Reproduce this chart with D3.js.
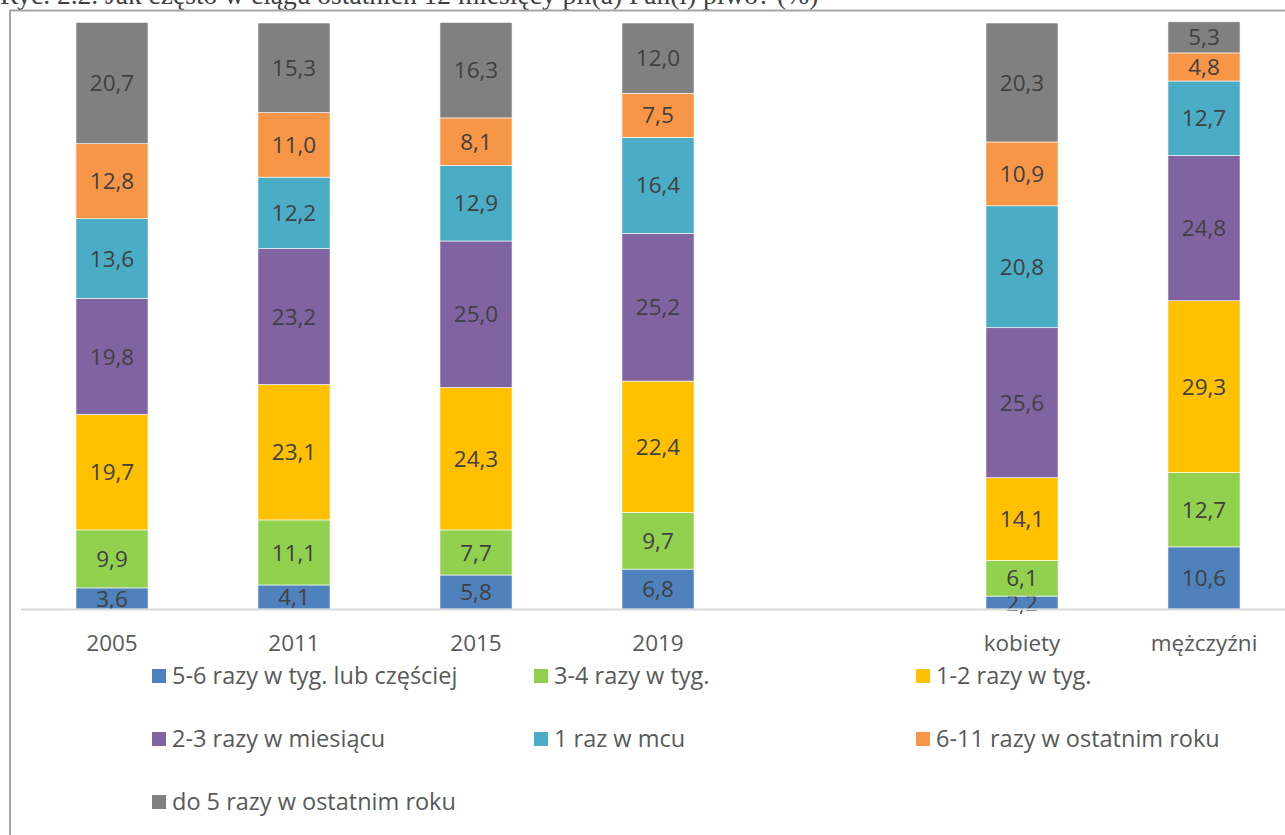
<!DOCTYPE html>
<html>
<head>
<meta charset="utf-8">
<style>
  body { margin: 0; background: #fff; }
  svg { display: block; }
  text { font-family: "Open Sans", Lato, sans-serif; }
</style>
</head>
<body>
<svg width="1285" height="835"></svg>
<script src="https://cdn.jsdelivr.net/npm/d3@7"></script>
<script>

var categories = ["2005", "2011", "2015", "2019", "kobiety", "mężczyźni"];

var seriesNames = [
  "5-6 razy w tyg. lub częściej",
  "3-4 razy w tyg.",
  "1-2 razy w tyg.",
  "2-3 razy w miesiącu",
  "1 raz w mcu",
  "6-11 razy w ostatnim roku",
  "do 5 razy w ostatnim roku"
];

var colors = ["#4f81bd", "#92d050", "#ffc000", "#8064a2", "#4bacc6", "#f79646", "#808080"];

// values per series, in category order
var weekly56   = [3.6, 4.1, 5.8, 6.8, 2.2, 10.6];
var weekly34   = [9.9, 11.1, 7.7, 9.7, 6.1, 12.7];
var weekly12   = [19.7, 23.1, 24.3, 22.4, 14.1, 29.3];
var monthly23  = [19.8, 23.2, 25.0, 25.2, 25.6, 24.8];
var monthly1   = [13.6, 12.2, 12.9, 16.4, 20.8, 12.7];
var yearly611  = [12.8, 11.0, 8.1, 7.5, 10.9, 4.8];
var yearlyTo5  = [20.7, 15.3, 16.3, 12.0, 20.3, 5.3];

var seriesValues = [weekly56, weekly34, weekly12, monthly23, monthly1, yearly611, yearlyTo5];

var title = "Ryc. 2.2. Jak często w ciągu ostatnich 12 miesięcy pił(a) Pan(i) piwo? (%)";

var svg = d3.select("svg");

// rows for the stack
var rows = categories.map(function(c, i) {
  var r = {cat: c};
  seriesNames.forEach(function(s, j) { r[s] = seriesValues[j][i]; });
  return r;
});

// empty slot between years and sex
var gapKey = "__gap";
var xDomain = categories.slice(0, 4).concat([gapKey], categories.slice(4));

var x = d3.scaleBand()
    .domain(xDomain)
    .range([21, 1295])
    .paddingInner(0.604)
    .paddingOuter(0.302);

var y = d3.scaleLinear()
    .domain([0, 100])
    .range([609, 23]);

var stacked = d3.stack().keys(seriesNames)(rows);

var fmt = function(v) { return d3.format(".1f")(v).replace(".", ","); };

// title (clipped at top, as in the source)
svg.append("text")
    .attr("x", 0)
    .attr("y", 4)
    .style("font-family", "'Liberation Serif', 'Times New Roman', serif")
    .style("font-size", "27.5px")
    .attr("fill", "#404040")
    .text(title);

// frame
svg.append("path")
    .attr("d", "M10,900 L10,10.5 L1300,10.5")
    .attr("fill", "none")
    .attr("stroke", "#a6a6a6")
    .attr("stroke-width", 2);

var layers = svg.append("g").selectAll("g")
  .data(stacked)
  .enter().append("g")
    .attr("fill", function(d, i) { return colors[i]; });

layers.selectAll("rect")
  .data(function(d) { return d; })
  .enter().append("rect")
    .attr("x", function(d) { return x(d.data.cat); })
    .attr("width", x.bandwidth())
    .attr("y", function(d) { return y(d[1]); })
    .attr("height", function(d) { return y(d[0]) - y(d[1]); })
    .attr("stroke", "#fff")
    .attr("stroke-width", 0.6);

// axis line
var xAxis = svg.append("g")
    .attr("transform", "translate(0," + y(0) + ")")
    .call(d3.axisBottom(x).tickSize(0).tickPadding(0)
      .tickFormat(function(d) { return d === gapKey ? "" : d; }));
xAxis.select(".domain")
    .attr("d", "M21,0.5H1295")
    .attr("stroke", "#d9d9d9")
    .attr("stroke-width", 2);
xAxis.selectAll("text")
    .attr("y", 34)
    .attr("dy", "0.35em")
    .style("font-family", "'Open Sans', sans-serif")
    .style("font-size", "22.5px")
    .attr("fill", "#595959");

// data labels
layers.selectAll("text")
  .data(function(d) { return d; })
  .enter().append("text")
    .attr("x", function(d) { return x(d.data.cat) + x.bandwidth() / 2; })
    .attr("y", function(d) { return (y(d[0]) + y(d[1])) / 2; })
    .attr("dy", "0.36em")
    .attr("text-anchor", "middle")
    .style("font-size", "22.5px")
    .attr("fill", "#404040")
    .text(function(d) { return fmt(d[1] - d[0]); });

// legend
var legendX = [152, 534, 916];
var legendY = [676, 739, 802];

var legend = svg.append("g").selectAll("g")
  .data(seriesNames)
  .enter().append("g")
    .attr("transform", function(d, i) {
      return "translate(" + legendX[i % 3] + "," + legendY[Math.floor(i / 3)] + ")";
    });

legend.append("rect")
    .attr("x", 0)
    .attr("y", -7)
    .attr("width", 14)
    .attr("height", 14)
    .attr("fill", function(d, i) { return colors[i]; });

legend.append("text")
    .attr("x", 20)
    .attr("dy", "0.35em")
    .style("font-size", "23.5px")
    .attr("fill", "#595959")
    .text(function(d) { return d; });

</script>
</body>
</html>
